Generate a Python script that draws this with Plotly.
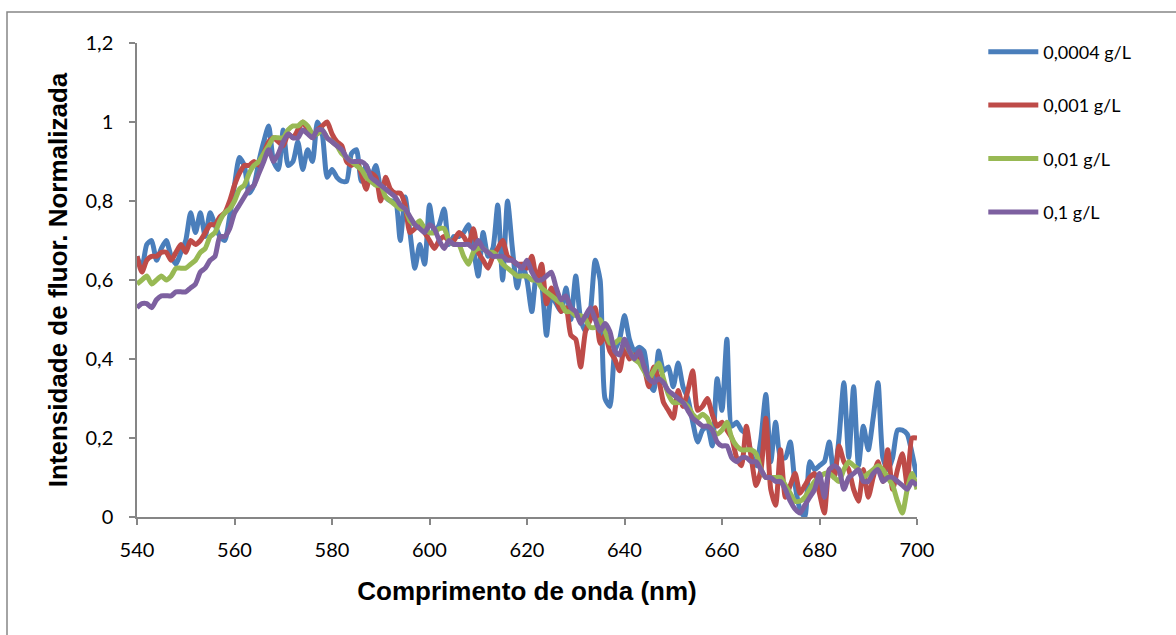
import plotly.graph_objects as go

wavelength = list(range(540, 701))

s_00004 = [
0.66,0.63,0.69,0.70,0.65,0.68,0.70,0.66,0.64,0.67,
0.70,0.77,0.72,0.77,0.71,0.77,0.74,0.71,0.70,0.76,
0.84,0.91,0.89,0.82,0.84,0.90,0.95,0.99,0.90,0.88,
0.98,0.89,0.90,0.95,0.88,0.93,0.90,1.00,0.97,0.86,
0.88,0.86,0.85,0.85,0.92,0.93,0.85,0.89,0.86,0.89,
0.83,0.81,0.80,0.80,0.70,0.81,0.72,0.63,0.69,0.64,
0.79,0.72,0.74,0.78,0.69,0.71,0.71,0.72,0.74,0.68,
0.61,0.72,0.66,0.68,0.79,0.60,0.80,0.68,0.58,0.64,
0.60,0.52,0.62,0.59,0.46,0.56,0.54,0.52,0.58,0.50,
0.61,0.50,0.47,0.52,0.65,0.60,0.30,0.28,0.42,0.45,
0.51,0.45,0.42,0.43,0.42,0.34,0.32,0.42,0.37,0.38,
0.33,0.39,0.33,0.30,0.24,0.19,0.22,0.23,0.18,0.35,
0.27,0.45,0.23,0.24,0.22,0.21,0.16,0.13,0.20,0.31,
0.14,0.24,0.15,0.15,0.19,0.08,0.02,0.00,0.14,0.12,
0.13,0.14,0.19,0.10,0.20,0.34,0.15,0.33,0.13,0.23,
0.17,0.25,0.34,0.15,0.12,0.15,0.22,0.22,0.21,0.16,
0.10]

s_0001 = [
0.66,0.62,0.65,0.66,0.66,0.67,0.67,0.65,0.67,0.69,
0.67,0.70,0.69,0.70,0.72,0.74,0.74,0.76,0.77,0.80,
0.84,0.87,0.89,0.89,0.90,0.89,0.92,0.95,0.96,0.95,
0.94,0.97,0.96,0.98,1.00,0.98,0.96,0.98,0.99,1.00,
0.97,0.95,0.94,0.90,0.89,0.90,0.87,0.83,0.87,0.86,
0.80,0.86,0.83,0.82,0.82,0.79,0.72,0.73,0.74,0.72,
0.70,0.68,0.70,0.71,0.70,0.70,0.72,0.71,0.69,0.73,
0.67,0.65,0.63,0.66,0.68,0.70,0.66,0.65,0.64,0.64,
0.63,0.66,0.60,0.64,0.54,0.58,0.55,0.52,0.53,0.46,
0.45,0.38,0.47,0.50,0.53,0.44,0.46,0.42,0.40,0.37,
0.43,0.40,0.41,0.40,0.38,0.33,0.38,0.35,0.29,0.27,
0.25,0.32,0.28,0.32,0.37,0.27,0.28,0.30,0.26,0.23,
0.24,0.22,0.20,0.15,0.13,0.23,0.15,0.08,0.12,0.25,
0.07,0.03,0.17,0.05,0.08,0.11,0.06,0.08,0.10,0.11,
0.06,0.01,0.12,0.10,0.18,0.14,0.12,0.07,0.04,0.12,
0.05,0.10,0.14,0.09,0.17,0.07,0.12,0.16,0.08,0.20,
0.20]

s_001 = [
0.59,0.60,0.61,0.59,0.60,0.61,0.60,0.61,0.63,0.63,
0.63,0.64,0.65,0.67,0.68,0.71,0.72,0.75,0.77,0.78,
0.80,0.83,0.84,0.87,0.89,0.90,0.92,0.94,0.96,0.96,
0.96,0.98,0.99,0.99,1.00,0.99,0.97,0.97,0.98,0.96,
0.95,0.94,0.92,0.91,0.90,0.89,0.88,0.86,0.85,0.84,
0.84,0.81,0.80,0.79,0.78,0.78,0.75,0.74,0.75,0.73,
0.72,0.72,0.73,0.73,0.70,0.69,0.69,0.66,0.64,0.67,
0.68,0.68,0.67,0.67,0.66,0.64,0.63,0.62,0.61,0.61,
0.61,0.60,0.60,0.58,0.57,0.56,0.55,0.54,0.52,0.52,
0.51,0.51,0.50,0.48,0.48,0.50,0.47,0.44,0.44,0.45,
0.44,0.42,0.40,0.39,0.37,0.35,0.37,0.39,0.35,0.31,
0.29,0.29,0.29,0.28,0.26,0.25,0.26,0.25,0.22,0.21,
0.22,0.24,0.20,0.18,0.17,0.17,0.17,0.16,0.12,0.10,
0.10,0.10,0.10,0.08,0.06,0.04,0.04,0.05,0.07,0.09,
0.10,0.11,0.11,0.10,0.09,0.12,0.14,0.13,0.12,0.10,
0.11,0.12,0.13,0.12,0.10,0.08,0.04,0.01,0.07,0.11,
0.07]

s_01 = [
0.53,0.54,0.54,0.53,0.55,0.56,0.56,0.56,0.57,0.57,
0.57,0.58,0.59,0.62,0.63,0.65,0.66,0.71,0.71,0.73,
0.77,0.79,0.81,0.83,0.84,0.87,0.90,0.93,0.90,0.92,
0.95,0.97,0.96,0.96,0.98,0.97,0.96,0.98,0.98,0.96,
0.95,0.94,0.93,0.91,0.90,0.90,0.90,0.89,0.86,0.85,
0.84,0.83,0.82,0.81,0.79,0.78,0.76,0.74,0.73,0.72,
0.74,0.73,0.70,0.68,0.70,0.69,0.69,0.69,0.69,0.68,
0.70,0.68,0.67,0.66,0.66,0.66,0.65,0.65,0.64,0.63,
0.65,0.62,0.60,0.60,0.61,0.62,0.58,0.55,0.56,0.53,
0.52,0.49,0.51,0.53,0.50,0.47,0.49,0.47,0.42,0.41,
0.45,0.42,0.40,0.42,0.38,0.35,0.34,0.35,0.34,0.32,
0.31,0.30,0.29,0.27,0.25,0.24,0.23,0.23,0.22,0.19,
0.18,0.18,0.15,0.14,0.15,0.15,0.14,0.14,0.12,0.10,
0.10,0.09,0.09,0.07,0.04,0.02,0.01,0.03,0.05,0.07,
0.11,0.05,0.12,0.13,0.12,0.07,0.10,0.11,0.12,0.09,
0.09,0.11,0.12,0.09,0.10,0.10,0.09,0.08,0.07,0.09,
0.08]

series_names = ["0,0004 g/L", "0,001 g/L", "0,01 g/L", "0,1 g/L"]
series_values = [s_00004, s_0001, s_001, s_01]
colors = ["#4A7EBB", "#BE4B48", "#98B954", "#7D60A0"]

x_ticks = [540, 560, 580, 600, 620, 640, 660, 680, 700]
y_ticks = [0, 0.2, 0.4, 0.6, 0.8, 1.0, 1.2]
y_tick_labels = ["0", "0,2", "0,4", "0,6", "0,8", "1", "1,2"]

fig = go.Figure()
for i, (name, vals, col) in enumerate(zip(series_names, series_values, colors)):
    fig.add_trace(go.Scatter(
        x=wavelength, y=vals, name=name, mode="lines",
        line=dict(color=col, width=5, shape="spline", smoothing=0.6),
        legendgroup=f"g{i}",
    ))

W, H = 1176, 635
L, R, T, B = 137, 259, 43, 118
title_font = dict(family="Liberation Sans, Arial, sans-serif", size=26, color="black")
fig.update_layout(
    width=W, height=H,
    margin=dict(l=L, r=R, t=T, b=B),
    paper_bgcolor="white", plot_bgcolor="white",
    font=dict(family="Lato, 'Open Sans', sans-serif", size=20, color="black"),
    showlegend=True,
    legend=dict(x=1.085, y=1.02, xanchor="left", yanchor="top",
                font=dict(size=18, family="Lato, sans-serif"),
                tracegroupgap=27, bgcolor="rgba(0,0,0,0)",
                itemwidth=50),
    xaxis=dict(
        range=[540, 700], tickvals=x_ticks, ticktext=[str(v) for v in x_ticks],
        showgrid=False, zeroline=False, showline=True, linecolor="#868686", linewidth=1.5,
        ticks="outside", ticklen=6, tickcolor="#868686", tickwidth=1.5,
        tickfont=dict(size=20), ticklabelstandoff=8,
        title=dict(text="<b>Comprimento de onda (nm)</b>", font=title_font, standoff=22),
    ),
    yaxis=dict(
        range=[0, 1.2], tickvals=y_ticks, ticktext=y_tick_labels,
        showgrid=False, zeroline=False, showline=True, linecolor="#868686", linewidth=1.5,
        ticks="outside", ticklen=6, tickcolor="#868686", tickwidth=1.5,
        tickfont=dict(size=20), ticklabelstandoff=12,
        title=dict(text="<b>Intensidade de fluor. Normalizada</b>", font=title_font, standoff=10),
    ),
)

pw = W - L - R
ph = H - T - B
fig.add_shape(type="rect", xref="paper", yref="paper",
              x0=(7 - L) / pw, x1=(W + 5 - L) / pw,
              y0=-(H + 5 - T - ph) / ph, y1=(H - 12 - B) / ph,
              line=dict(color="#868686", width=1.5), fillcolor="rgba(0,0,0,0)", layer="below")

fig.write_html("out.html")
